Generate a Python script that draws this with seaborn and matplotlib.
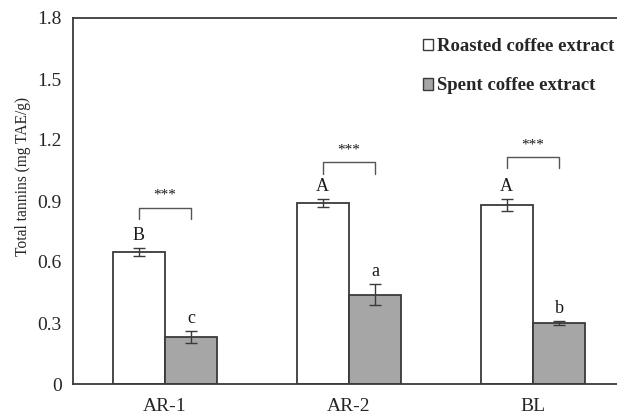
import matplotlib
matplotlib.use("Agg")
import matplotlib.pyplot as plt
import seaborn as sns
import pandas as pd
import numpy as np

samples = ["AR-1", "AR-2", "BL"]
extracts = ["Roasted coffee extract", "Spent coffee extract"]
roasted = [0.65, 0.89, 0.88]
roasted_err = [0.02, 0.02, 0.03]
spent = [0.23, 0.44, 0.30]
spent_err = [0.03, 0.05, 0.01]
roasted_letters = ["B", "A", "A"]
spent_letters = ["c", "a", "b"]
signif = ["***", "***", "***"]
bracket_top = [0.865, 1.09, 1.115]
yticks = [0, 0.3, 0.6, 0.9, 1.2, 1.5, 1.8]
ytick_labels = ["0", "0.3", "0.6", "0.9", "1.2", "1.5", "1.8"]

df = pd.DataFrame({
    "sample": samples * 2,
    "extract": [extracts[0]] * 3 + [extracts[1]] * 3,
    "value": roasted + spent,
})

sns.set_style("white")
plt.rcParams["font.family"] = ["Liberation Serif", "DejaVu Serif"]

edge = "#3a3a3a"
fig = plt.figure(figsize=(6.17, 4.15), dpi=100)
ax = fig.add_axes([73 / 617, 31 / 415, 552 / 617, 366 / 415])

sns.barplot(data=df, x="sample", y="value", hue="extract", order=samples,
            hue_order=extracts, palette=["white", "#a6a6a6"], width=0.57,
            edgecolor=edge, linewidth=1.3, errorbar=None, ax=ax, legend=True)

# error bars and letters
bars = [p for p in ax.patches if p.get_height() > 0]
bars = sorted(bars, key=lambda p: p.get_x())
centers = [p.get_x() + p.get_width() / 2 for p in bars]
vals = []
errs = []
lets = []
for i in range(3):
    vals += [roasted[i], spent[i]]
    errs += [roasted_err[i], spent_err[i]]
    lets += [roasted_letters[i], spent_letters[i]]
ax.errorbar(centers, vals, yerr=errs, fmt="none", ecolor=edge, elinewidth=1.0,
            capsize=4, capthick=1.0, zorder=5)
for x, v, e, l in zip(centers, vals, errs, lets):
    ax.text(x, v + e + 0.02, l, ha="center", va="bottom", fontsize=13, color="#1a1a1a")

# significance brackets
for i in range(3):
    x1, x2 = centers[2 * i], centers[2 * i + 1]
    top = bracket_top[i]
    ax.plot([x1, x1, x2, x2], [top - 0.055, top, top, top - 0.055],
            color="#555555", lw=1.0, solid_joinstyle="round")
    ax.text((x1 + x2) / 2, top + 0.03, signif[i], ha="center", va="bottom",
            fontsize=11, color="#1a1a1a")

ax.set_xlim(-0.5, 2.5)
ax.set_ylim(0, 1.8)
ax.set_yticks(yticks)
ax.set_yticklabels(ytick_labels)
ax.set_xlabel("")
ax.set_ylabel("Total tannins (mg TAE/g)", fontsize=11.2)
ax.yaxis.set_label_coords(-0.076, 0.568)
ax.tick_params(axis="y", length=0, labelsize=14, pad=8)
ax.tick_params(axis="x", length=0, labelsize=14, pad=10)
ax.set_xticks([0.5, 1.5], minor=True)
ax.tick_params(axis="x", which="minor", direction="in", length=5, color=edge, width=1.0)

for s in ["left", "bottom", "top"]:
    ax.spines[s].set_visible(True)
    ax.spines[s].set_color(edge)
    ax.spines[s].set_linewidth(1.3)
ax.spines["right"].set_visible(False)

handles, labels = ax.get_legend_handles_labels()
for h in handles:
    h.set_linewidth(1.0)
leg = ax.legend(handles, labels, loc="upper left", bbox_to_anchor=(423 / 617, 1 - 38 / 415),
                bbox_transform=fig.transFigure, frameon=False, handlelength=0.55,
                handleheight=0.55, handletextpad=0.22, labelspacing=1.2,
                borderpad=0, borderaxespad=0,
                prop={"family": "Liberation Serif", "weight": "bold", "size": 13.5})

fig.savefig("out.png", dpi=100)
